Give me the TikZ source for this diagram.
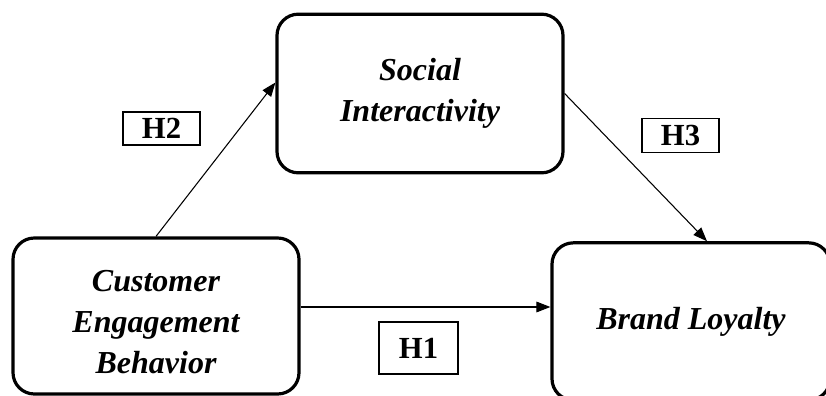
\documentclass[tikz,border=0pt]{standalone}
\usepackage{fontspec}
\setmainfont{Liberation Serif}
\usetikzlibrary{arrows.meta,calc}
\begin{document}
\begin{tikzpicture}[x=0.75pt,y=-0.75pt,
  varbox/.style={draw,line width=2.4pt,rounded corners=16pt,align=center,
    inner sep=0pt,font=\fontsize{24}{31}\selectfont\bfseries\itshape},
  vartext/.style={align=center,inner sep=0pt,
    font=\fontsize{24}{31}\selectfont\bfseries\itshape},
  hbox/.style={draw,line width=1.1pt,inner sep=0pt,
    font=\fontsize{23}{26}\selectfont\bfseries},
  link/.style={line width=0.8pt,-{Triangle[length=10.5pt,width=8pt]}}]
\useasboundingbox (0,0) rectangle (826,396);
\clip (0,0) rectangle (826,396);
\node[varbox,minimum width=214.5pt,minimum height=117pt] (CEB) at (156,316) {};
\node[vartext] (CEBt) at (156,322) {Customer\\Engagement\\Behavior};
\node[varbox,minimum width=214.5pt,minimum height=119pt] (SI) at (420,93.5)
  {Social\\Interactivity};
\node[varbox,minimum width=208.5pt,minimum height=118pt] (BL) at (691,321.5)
  {Brand Loyalty};
\node[hbox,minimum width=57.75pt,minimum height=24.75pt] (H2) at (161.5,128.5) {H2};
\node[hbox,minimum width=57.75pt,minimum height=25.5pt] (H3) at (680.5,135.5) {H3};
\node[hbox,minimum width=59.25pt,minimum height=39pt] (H1) at (418.5,348) {H1};
\coordinate (h2e) at ($(SI.west)+(0,-11)$);
\coordinate (h3e) at ($(BL.north)+(16,0)$);
\coordinate (h1s) at ($(CEB.east)+(0,-9)$);
\draw[link] (CEB.north) -- (h2e);
\draw[link] (SI.east) -- (h3e);
\draw[link] (h1s) -- (h1s -| BL.west);
\end{tikzpicture}
\end{document}
